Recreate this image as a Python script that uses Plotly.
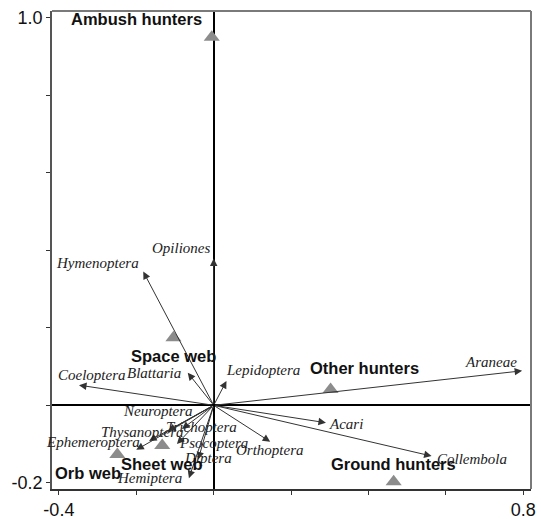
import plotly.graph_objects as go

# Prey taxa shown as environmental vectors (RDA axis 1, axis 2)
taxa = ["Hymenoptera", "Opiliones", "Coeloptera", "Blattaria", "Lepidoptera",
        "Araneae", "Acari", "Collembola", "Orthoptera", "Neuroptera",
        "Trichoptera", "Thysanoptera", "Ephemeroptera", "Psocoptera",
        "Diptera", "Hemiptera"]
taxa_x = [-0.182, 0.0, -0.348, -0.067, 0.033, 0.797, 0.290, 0.563, 0.146,
          -0.118, -0.082, -0.167, -0.200, -0.095, -0.040, -0.064]
taxa_y = [0.345, 0.379, 0.052, 0.084, 0.063, 0.089, -0.045, -0.131, -0.094,
          -0.066, -0.061, -0.092, -0.115, -0.100, -0.140, -0.188]

# Spider guild scores
guilds = ["Ambush hunters", "Space web", "Other hunters", "Ground hunters",
          "Sheet web", "Orb web"]
guild_x = [-0.005, -0.104, 0.302, 0.465, -0.133, -0.249]
guild_y = [0.950, 0.174, 0.041, -0.197, -0.104, -0.127]

# Axis ticks
x_ticks = [-0.4, -0.2, 0.0, 0.2, 0.4, 0.6, 0.8]
x_tick_text = ["-0.4", "", "", "", "", "", "0.8"]
y_ticks = [-0.2, 0.0, 0.2, 0.4, 0.6, 0.8, 1.0]
y_tick_text = ["-0.2", "", "", "", "", "", "1.0"]

# Label offsets (pixels) relative to arrow tips / guild markers
taxa_dx = [-46, -33, 13, -34, 37, -31, 20, 40, 0, -10, 20, -7, -43, 37, 10, -39]
taxa_dy = [9, 10, 10, 0, 11, 9, -1, -3, -8, 20, 2, 9, 8, 1, 2, 0]
guild_dx = [-75, 0, 34, 0, 0, -29]
guild_dy = [18, -18, 21, 18, -18, -18]

X_RANGE = [-0.4178, 0.8199]
Y_RANGE = [-0.216, 1.0175]

fig = go.Figure()

fig.add_trace(go.Scatter(
    x=guild_x, y=guild_y, mode="markers",
    marker=dict(symbol="triangle-up", size=14, color="#8c8c8c", line=dict(width=0)),
    hoverinfo="text", text=guilds, showlegend=False,
))

annotations = []
for name, x, y, dx, dy in zip(taxa, taxa_x, taxa_y, taxa_dx, taxa_dy):
    # vector from origin
    annotations.append(dict(
        x=x, y=y, ax=0, ay=0, xref="x", yref="y", axref="x", ayref="y",
        text="", showarrow=True, arrowhead=2, arrowsize=1.5, arrowwidth=1,
        arrowcolor="#333333", standoff=0,
    ))
    annotations.append(dict(
        x=x, y=y, xref="x", yref="y", text=name, showarrow=False,
        xshift=dx, yshift=dy, xanchor="center", yanchor="middle",
        font=dict(family="Liberation Serif", size=15, color="#222222", style="italic"),
    ))

for name, x, y, dx, dy in zip(guilds, guild_x, guild_y, guild_dx, guild_dy):
    annotations.append(dict(
        x=x, y=y, xref="x", yref="y", text="<b>" + name + "</b>", showarrow=False,
        xshift=dx, yshift=dy, xanchor="center", yanchor="middle",
        font=dict(family="Liberation Sans", size=16.5, color="#111111"),
    ))

fig.update_layout(
    width=541, height=519,
    margin=dict(l=52, r=10, t=11, b=30),
    plot_bgcolor="white", paper_bgcolor="white",
    annotations=annotations,
    shapes=[
        dict(type="line", xref="paper", yref="paper", x0=0, x1=1, y0=1, y1=1,
             line=dict(color="#7a7a7a", width=2)),
        dict(type="line", xref="paper", yref="paper", x0=1, x1=1, y0=0, y1=1,
             line=dict(color="#7a7a7a", width=2)),
    ],
)

fig.update_xaxes(
    range=X_RANGE, tickvals=x_ticks, ticktext=x_tick_text, automargin=False,
    ticks="outside", ticklen=4, tickcolor="#333333", tickwidth=1,
    showgrid=False, zeroline=True, zerolinecolor="#000000", zerolinewidth=2,
    showline=True, linecolor="#333333", linewidth=1.5,
    tickfont=dict(family="Liberation Sans", size=18, color="#111111"),
    ticklabelstandoff=0,
)
fig.update_yaxes(
    range=Y_RANGE, tickvals=y_ticks, ticktext=y_tick_text, automargin=False,
    ticks="outside", ticklen=4, tickcolor="#333333", tickwidth=1,
    showgrid=False, zeroline=True, zerolinecolor="#000000", zerolinewidth=1.5,
    showline=True, linecolor="#555555", linewidth=1.5,
    tickfont=dict(family="Liberation Sans", size=18, color="#111111"),
)

fig.write_html("out.html")
